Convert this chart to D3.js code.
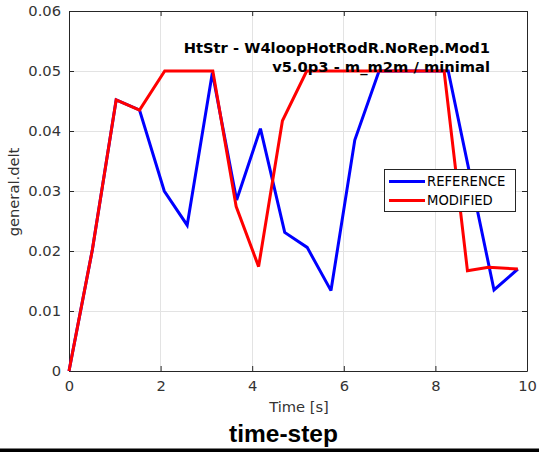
<!DOCTYPE html>
<html>
<head>
<meta charset="utf-8">
<script src="https://cdn.jsdelivr.net/npm/d3@7"></script>
<style>
html,body{margin:0;padding:0;background:#fff;}
svg{display:block;}
</style>
</head>
<body>
<script>
// ---- data ----
const refTime = [0, 0.51, 1.03, 1.54, 2.08, 2.58, 3.13, 3.66, 4.18, 4.71, 5.20, 5.72, 6.24, 6.77, 8.28, 9.28, 9.80];
const refDelt = [0, 0.0202, 0.0452, 0.0435, 0.0300, 0.0243, 0.0497, 0.0285, 0.0404, 0.0231, 0.0206, 0.0134, 0.0385, 0.0500, 0.0500, 0.0135, 0.0170];
const modTime = [0, 0.51, 1.03, 1.54, 2.09, 3.14, 3.65, 4.14, 4.66, 5.19, 8.19, 8.70, 9.16, 9.80];
const modDelt = [0, 0.0202, 0.0452, 0.0435, 0.0500, 0.0500, 0.0274, 0.0174, 0.0417, 0.0500, 0.0500, 0.0167, 0.0173, 0.0170];
const xTicks = [0, 2, 4, 6, 8, 10];
const yTicks = [0, 0.01, 0.02, 0.03, 0.04, 0.05, 0.06];
const seriesNames = ["REFERENCE", "MODIFIED"];
const seriesColors = ["#0000ff", "#ff0000"];
const titleLines = ["HtStr - W4loopHotRodR.NoRep.Mod1", "v5.0p3 - m_m2m / minimal"];
const xLabel = "Time [s]";
const yLabel = "general.delt";
const figTitle = "time-step";

const W = 539, H = 455;
const svg = d3.select("body").append("svg").attr("width", W).attr("height", H);
svg.append("rect").attr("width", W).attr("height", H).attr("fill", "#fff");

const L = 69, R = 527, T = 11, B = 371;
const x = d3.scaleLinear().domain([0, 10]).range([L, R]);
const y = d3.scaleLinear().domain([0, 0.06]).range([B, T]);
const font = "DejaVu Sans, sans-serif";
const axCol = "#262626";

// grid
const g = svg.append("g");
g.selectAll(".gx").data(xTicks).enter().append("line")
  .attr("x1", d => x(d)).attr("x2", d => x(d)).attr("y1", T).attr("y2", B)
  .attr("stroke", "#e3e3e3").attr("stroke-width", 1).attr("shape-rendering", "crispEdges");
g.selectAll(".gy").data(yTicks).enter().append("line")
  .attr("x1", L).attr("x2", R).attr("y1", d => y(d)).attr("y2", d => y(d))
  .attr("stroke", "#e3e3e3").attr("stroke-width", 1).attr("shape-rendering", "crispEdges");

// axes
const xAxis = d3.axisBottom(x).tickValues(xTicks).tickSizeInner(-5).tickSizeOuter(0).tickPadding(10).tickFormat(d3.format("d"));
const yAxis = d3.axisLeft(y).tickValues(yTicks).tickSizeInner(-5).tickSizeOuter(0).tickPadding(8).tickFormat(d => d === 0 ? "0" : d3.format(".2f")(d));
const xa = svg.append("g").attr("transform", `translate(0,${B})`).call(xAxis);
const ya = svg.append("g").attr("transform", `translate(${L},0)`).call(yAxis);
const xt = svg.append("g").attr("transform", `translate(0,${T})`).call(d3.axisTop(x).tickValues(xTicks).tickSizeInner(-5).tickSizeOuter(0).tickFormat(""));
const yr = svg.append("g").attr("transform", `translate(${R},0)`).call(d3.axisRight(y).tickValues(yTicks).tickSizeInner(-5).tickSizeOuter(0).tickFormat(""));
[xa, ya, xt, yr].forEach(a => {
  a.selectAll("path").attr("stroke", axCol).attr("stroke-width", 1);
  a.selectAll("line").attr("stroke", axCol);
  a.selectAll("text").attr("fill", "#333").style("font-family", font).style("font-size", "14.7px");
});
xa.selectAll("text").attr("dy", "0.71em");

// lines
const line = d3.line().x(d => x(d[0])).y(d => y(d[1]));
const refData = refTime.map((t, i) => [t, refDelt[i]]);
const modData = modTime.map((t, i) => [t, modDelt[i]]);
[refData, modData].forEach((data, i) => {
  svg.append("path").datum(data).attr("d", line)
    .attr("fill", "none").attr("stroke", seriesColors[i]).attr("stroke-width", 3)
    .attr("stroke-linejoin", "miter").attr("stroke-miterlimit", 3);
});

// title
svg.append("g").selectAll("text").data(titleLines).enter().append("text")
  .attr("x", 490).attr("y", (d, i) => 53 + i * 19)
  .attr("text-anchor", "end").attr("fill", "#000")
  .style("font-family", font).style("font-weight", "bold").style("font-size", "14.7px")
  .text(d => d);

// axis labels
svg.append("text").attr("x", 299).attr("y", 412).attr("text-anchor", "middle")
  .attr("fill", "#333").style("font-family", font).style("font-size", "14.7px").text(xLabel);
svg.append("text").attr("transform", "translate(19,192) rotate(-90)").attr("text-anchor", "middle")
  .attr("fill", "#333").style("font-family", font).style("font-size", "14.7px").text(yLabel);

// legend
const lg = svg.append("g");
lg.append("rect").attr("x", 384.5).attr("y", 169.5).attr("width", 131).attr("height", 42)
  .attr("fill", "#fff").attr("stroke", axCol).attr("stroke-width", 1);
seriesNames.forEach((n, i) => {
  const ly = 181.5 + i * 19;
  lg.append("line").attr("x1", 389).attr("x2", 425).attr("y1", ly).attr("y2", ly)
    .attr("stroke", seriesColors[i]).attr("stroke-width", 3);
  lg.append("text").attr("x", 427).attr("y", ly + 4.7).attr("fill", "#000")
    .style("font-family", font).style("font-size", "13.2px").text(n);
});

// figure title and bottom rule
svg.append("text").attr("x", 283.5).attr("y", 441.5).attr("text-anchor", "middle").attr("fill", "#000")
  .style("font-family", "Liberation Sans, Arial, sans-serif").style("font-weight", "bold").style("font-size", "24.5px")
  .text(figTitle);
svg.append("rect").attr("x", 0).attr("y", 448.5).attr("width", W).attr("height", 3.5).attr("fill", "#000");
</script>
</body>
</html>
